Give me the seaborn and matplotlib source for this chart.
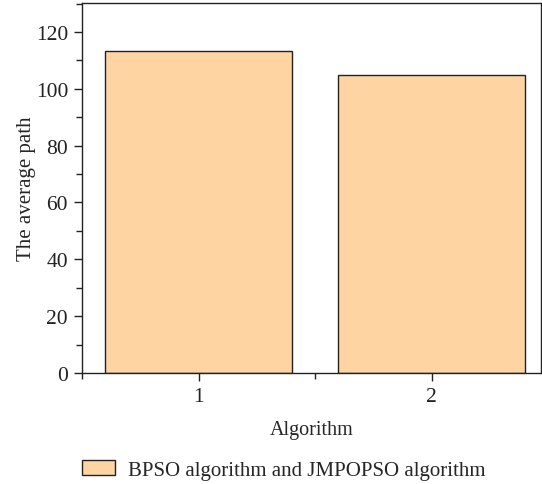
import matplotlib
matplotlib.use("Agg")
import matplotlib.pyplot as plt
import seaborn as sns
import pandas as pd
from matplotlib.ticker import MultipleLocator

# === Data ===
algorithms = [1, 2]
avg_path = [113.3, 104.9]
legend_label = "BPSO algorithm and JMPOPSO algorithm"

df = pd.DataFrame({"Algorithm": algorithms, "path": avg_path})

# === Style ===
sns.set_style("ticks")
plt.rcParams["font.family"] = ["Liberation Serif", "DejaVu Serif"]
plt.rcParams["font.size"] = 14.5

fig = plt.figure(figsize=(5.42, 4.85), dpi=100)
ax = fig.add_axes([82 / 542, 1 - 374 / 485, (540.7 - 82) / 542, 370 / 485])

sns.barplot(data=df, x="Algorithm", y="path", native_scale=True,
            color="#FED4A2", saturation=1, edgecolor="#222222",
            linewidth=1.0, width=0.8, ax=ax)

ax.set_xlim(0.5, 2.468)
ax.set_ylim(0, 130.2)
ax.xaxis.set_major_locator(MultipleLocator(1))
ax.xaxis.set_minor_locator(MultipleLocator(0.5))
ax.yaxis.set_major_locator(MultipleLocator(20))
ax.yaxis.set_minor_locator(MultipleLocator(10))
ax.tick_params(which="major", direction="out", length=6, width=1, labelsize=15.5,
               colors="#222222", pad=4)
ax.tick_params(which="minor", direction="out", length=4, width=1, colors="#222222")
for sp in ax.spines.values():
    sp.set_linewidth(1.0)
    sp.set_color("#222222")

ax.set_xlabel("Algorithm", fontsize=14.5, labelpad=10)
ax.set_ylabel("The average path", fontsize=15, labelpad=0)

# legend below the axes
handle = ax.patches[0]
fig.legend([handle], [legend_label], loc="center left",
           bbox_to_anchor=(81.7 / 542, 1 - 471 / 485), frameon=False,
           fontsize=15, handlelength=1.6, handleheight=0.7, handletextpad=0.6,
           borderpad=0, borderaxespad=0)

fig.savefig("out.png", dpi=100)
plt.close(fig)
